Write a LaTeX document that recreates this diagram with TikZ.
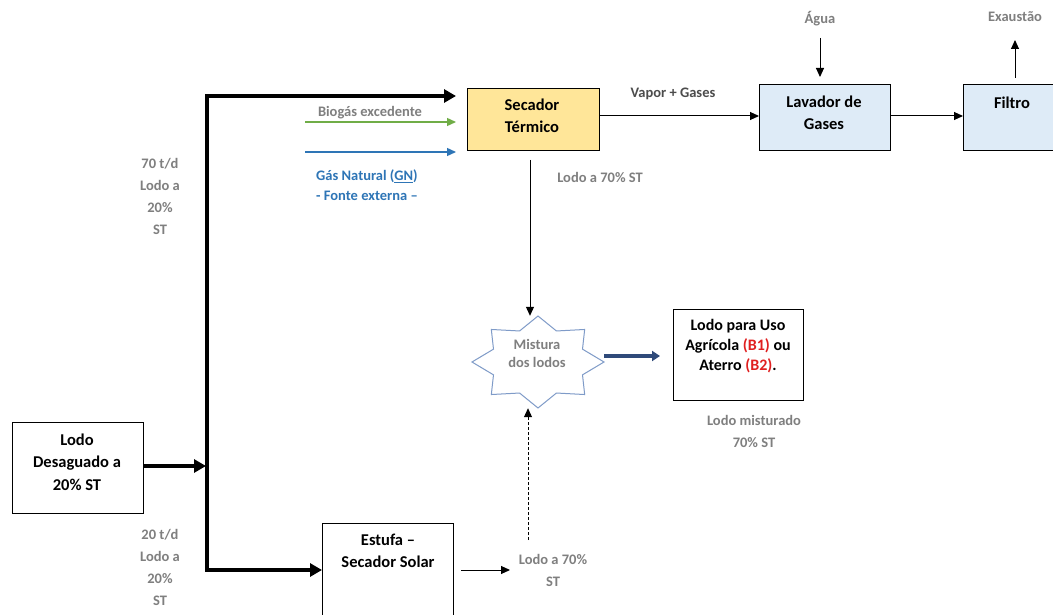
\documentclass[tikz,border=0pt]{standalone}
\usepackage{fontspec}
\setmainfont{Carlito}
\usetikzlibrary{arrows.meta,shapes.geometric}
\definecolor{lgray}{HTML}{7F7F7F}
\definecolor{ylw}{HTML}{FFE699}
\definecolor{lblue}{HTML}{DEEBF7}
\definecolor{gasblue}{HTML}{2E75B6}
\definecolor{biogreen}{HTML}{70AD47}
\definecolor{starblue}{HTML}{7F9BC8}
\definecolor{navy}{HTML}{2F4A7A}
\definecolor{bred}{HTML}{E02020}
\tikzset{
  box/.style={draw, line width=1pt, inner sep=0pt, anchor=north west},
  boxtxt/.style={align=center, inner sep=0pt,
    font=\bfseries\fontsize{16.5}{22.5}\selectfont},
  lbl/.style={text=lgray, align=center, inner sep=0pt,
    font=\bfseries\fontsize{14.5}{22}\selectfont},
  thickarr/.style={line width=3.6pt, -{Triangle[length=12pt,width=13pt]}},
  thinarr/.style={line width=1pt, -{Triangle[length=9pt,width=8pt]}},
}
\begin{document}
\begin{tikzpicture}[x=1pt,y=-1pt]
\clip (0,0) rectangle (1053,615);
\fill[white] (0,0) rectangle (1053,615);
% boxes
\node[box, minimum width=131, minimum height=91] (lodo) at (12,422) {};
\node[boxtxt] (lodolbl) at (77,462) {Lodo\\Desaguado a\\20\% ST};
\node[box, fill=ylw, minimum width=132, minimum height=62] (sec) at (467,88) {};
\node[boxtxt] (seclbl) at (532,116) {Secador\\Térmico};
\node[box, fill=lblue, minimum width=131, minimum height=66] (lav) at (759,84) {};
\node[boxtxt] (lavlbl) at (824,113) {Lavador de\\Gases};
\node[box, fill=lblue, minimum width=100, minimum height=66] (filt) at (963,84) {};
\node[boxtxt] (filtlbl) at (1012,103) {Filtro};
\node[box, minimum width=130, minimum height=91] (dest) at (673,309) {};
\node[boxtxt, font=\bfseries\fontsize{16}{20}\selectfont] (destlbl) at (738,346) {Lodo para Uso\\Agrícola \textcolor{bred}{(B1)} ou\\Aterro \textcolor{bred}{(B2)}.};
\node[box, minimum width=131, minimum height=100] (estufa) at (322,523) {};
\node[boxtxt] (estlbl) at (388,551) {Estufa –\\Secador Solar};
% star
\node[ellipse, minimum width=132, minimum height=92, inner sep=0pt] (mix) at (538,362) {};
\draw[starblue, line width=1pt, shift={(538,362)}]
  plot[samples at={0,22.5,...,337.5}] (\x:{66*(1-0.27*mod(round(\x/22.5),2))} and {46*(1-0.27*mod(round(\x/22.5),2))}) -- cycle;
\node[lbl, font=\bfseries\fontsize{14.5}{18}\selectfont] (mixlbl) at (537,353) {Mistura\\dos lodos};
% trunk
\coordinate (tj) at (206,466);
\coordinate (ttop) at (207,96);
\coordinate (tbot) at (207,570);
\coordinate (ttopend) at (456,96);
\coordinate (tbotend) at (322,570);
\draw[thickarr] (lodo.east |- tj) -- (tj);
\draw[line width=3.6pt, line join=miter] (444,96) -- (ttop) -- (tbot) -- (310,570);
\draw[thickarr] (442,96) -- (ttopend);
\draw[thickarr] (308,570) -- (tbotend);
% gas inputs
\coordinate (bg) at (305,122);
\coordinate (bgend) at (456,122);
\coordinate (gn) at (305,152);
\coordinate (gnend) at (456,152);
\draw[thinarr, biogreen, line width=1.4pt] (bg) -- (bgend);
\draw[thinarr, gasblue, line width=1.4pt] (gn) -- (gnend);
\node[lbl] (biolbl) at (370,113) {Biogás excedente};
\node[lbl, text=gasblue, anchor=west] (gnlbl) at (316,176) {Gás Natural (\underline{GN})};
\node[lbl, text=gasblue, anchor=west] (gnlbl2) at (316,196) {- Fonte externa –};
% gas train
\draw[thinarr] (sec.east |- 0,116) -- (lav.west |- 0,116);
\node[lbl, text=black!70] (vap) at (673,94) {Vapor + Gases};
\draw[thinarr] (lav.east |- 0,116) -- (filt.west |- 0,116);
\node[lbl] (agua) at (820,19) {Água};
\coordinate (aguas) at (820,38);
\coordinate (aguae) at (820,77);
\draw[thinarr] (aguas) -- (aguae);
\node[lbl] (exa) at (1015,17) {Exaustão};
\coordinate (exas) at (1015,78);
\coordinate (exae) at (1015,40);
\draw[thinarr] (exas) -- (exae);
% to mixer
\coordinate (secdown) at (530,160);
\draw[thinarr] (secdown) -- (mix.north -| secdown);
\node[lbl] (l70a) at (600,177) {Lodo a 70\% ST};
\coordinate (dashs) at (528,540);
\draw[line width=1pt, dash pattern=on 3pt off 2pt, -{Triangle[length=9pt,width=8pt]}] (dashs) -- (mix.south -| dashs);
\coordinate (ests) at (461,570);
\coordinate (este) at (510,570);
\draw[thinarr] (ests) -- (este);
\node[lbl] (l70b) at (553,570) {Lodo a 70\%\\ST};
% mixer to destination
\coordinate (mixe) at (604,356);
\coordinate (deste) at (660,356);
\draw[navy, line width=3.5pt, -{Triangle[length=8pt,width=10pt]}] (mixe) -- (deste);
\node[lbl] (misto) at (754,431) {Lodo misturado\\70\% ST};
% side labels
\node[lbl] (l70t) at (160,196) {70 t/d\\Lodo a\\20\%\\ST};
\node[lbl] (l20t) at (160,567) {20 t/d\\Lodo a\\20\%\\ST};
\end{tikzpicture}
\end{document}
